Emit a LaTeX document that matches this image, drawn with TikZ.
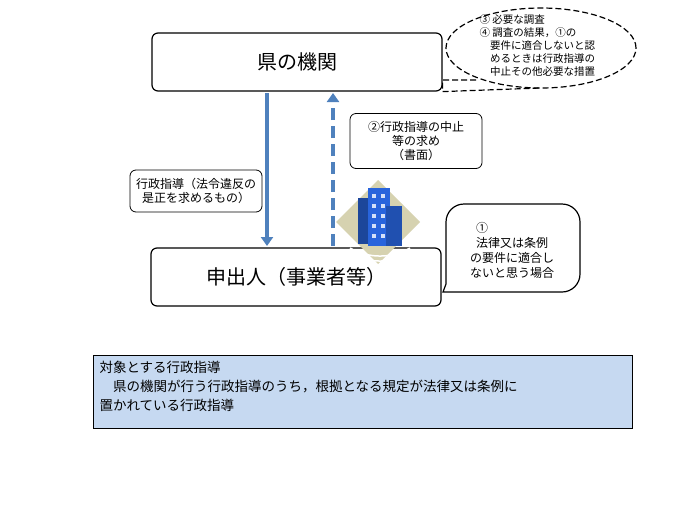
\documentclass[tikz,border=0pt]{standalone}
\usepackage{fontspec}
\usetikzlibrary{arrows.meta, shapes.geometric}
\setmainfont{Noto Sans CJK JP}
\definecolor{arrowblue}{RGB}{79,129,189}
\definecolor{notefill}{RGB}{198,217,241}
\definecolor{beige}{RGB}{214,210,176}
\definecolor{bldblue}{RGB}{40,100,220}
\begin{document}
\begin{tikzpicture}[
    x = 1pt, y = -1pt,
    bigbox/.style = {
      draw = black,
      very thick,
      rounded corners = 6pt,
      minimum width = 290pt,
      minimum height = 58pt,
      font = \fontsize{20}{22}\selectfont
    },
    smallbox/.style = {
      draw = black,
      thick,
      rounded corners = 6pt,
      align = center,
      font = \fontsize{12}{14}\selectfont
    },
    flow/.style = {
      draw = arrowblue,
      line width = 3.5pt,
      -{Triangle[length=9pt,width=12pt]}
    },
    longdash/.style = {
      dash pattern = on 6pt off 3pt
    }
  ]
    \useasboundingbox (0, 0) rectangle (700, 525);

    \node[bigbox] (pref) at (297, 62) {県の機関};
    \node[bigbox] (applicant) at (296, 277) {申出人（事業者等）};

    \coordinate (down) at (267, 246);
    \coordinate (upstart) at (333, 246);
    \coordinate (up) at (333, 93);
    \draw[flow] (267, 93) -- (down);
    \draw[flow, dash pattern = on 12pt off 6pt] (upstart) -- (up);

    \node[smallbox, minimum width = 132pt, minimum height = 42pt] (guidance) at (196, 191)
      {行政指導（法令違反の\\是正を求めるもの）};
    \node[smallbox, minimum width = 132pt, minimum height = 55pt] (request) at (416, 141)
      {②行政指導の中止\\等の求め\\（書面）};

    % building
    \fill[beige] (378, 180) -- (420, 222) -- (378, 264) -- (336, 222) -- cycle;
    \foreach \r in {0, 5, 10} {
      \draw[white, line width = 1.5pt] (350, 248 + \r) arc[start angle = 120, end angle = 60, radius = 60];
    }
    \fill[bldblue!70!black] (358, 198) rectangle (376, 244);
    \fill[bldblue] (368, 188) rectangle (390, 246);
    \fill[bldblue!80!black] (386, 206) rectangle (402, 246);
    \foreach \i in {0, 1, 2, 3, 4} {
      \fill[white!80!bldblue] (372, 194 + 10*\i) rectangle (376, 198 + 10*\i);
      \fill[white!80!bldblue] (381, 194 + 10*\i) rectangle (385, 198 + 10*\i);
    }

    % dashed callout
    \node[draw, very thick, longdash, ellipse, minimum width = 190pt, minimum height = 80pt,
      inner sep = 0pt] (check) at (541, 48) {};
    \node[align = left, font = \fontsize{10.5}{13}\selectfont, anchor = north west] (checktext) at (476, 11)
      {③ 必要な調査\\④ 調査の結果，①の\\\hspace{1em}要件に適合しないと認\\\hspace{1em}めるときは行政指導の\\\hspace{1em}中止その他必要な措置};
    \draw[very thick, longdash] (476, 80) -- (pref.east |- 0, 80) -- (pref.south east) -- (540, 88);

    % speech bubble
    \draw[very thick, fill = white, rounded corners = 18pt]
      (470, 292) -- (580, 292) -- (580, 204) -- (446, 204) -- (446, 262)
      [sharp corners] -- (446, 284) -- (443, 292) -- cycle;
    \node[align = center, font = \fontsize{12}{15}\selectfont] (case) at (512, 250)
      {\makebox[7em][l]{\hspace{0.5em}①}\\法律又は条例\\の要件に適合し\\ないと思う場合};

    % note
    \node[draw = black, fill = notefill, minimum width = 539pt, minimum height = 73pt,
      anchor = north west] (notebox) at (93, 355) {};
    \node[anchor = north west, align = left, font = \fontsize{13.5}{19}\selectfont] (notetext) at (96, 358)
      {対象とする行政指導\\\hspace{1em}県の機関が行う行政指導のうち，根拠となる規定が法律又は条例に\\置かれている行政指導};
\end{tikzpicture}
\end{document}
